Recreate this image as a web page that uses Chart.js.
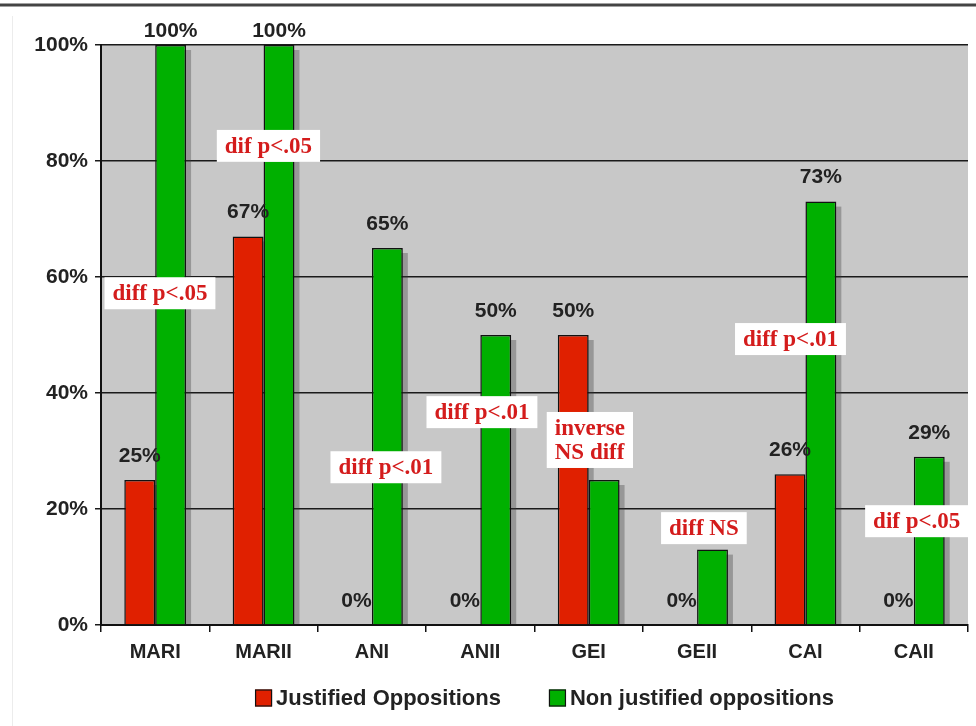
<!DOCTYPE html>
<html><head><meta charset="utf-8">
<script src="https://cdn.jsdelivr.net/npm/chart.js@4.4.1/dist/chart.umd.min.js"></script>
<style>html,body{margin:0;padding:0;background:#fff;} #wrap{width:976px;height:726px;position:relative;}</style>
</head><body><div id="wrap"><canvas id="c"></canvas></div>
<script>
const categories = ['MARI','MARII','ANI','ANII','GEI','GEII','CAI','CAII'];
const justified = [25,67,0,0,50,0,26,0];
const nonJustified = [100,100,65,50,25,13,73,29];
const seriesNames = ['Justified Oppositions','Non justified oppositions'];
const seriesColors = ['#e02000','#00b000'];
const yTickValues = [0,20,40,60,80,100];
const noteTexts = [['diff p<.05'],['dif p<.05'],['diff p<.01'],['diff p<.01'],['inverse','NS diff'],['diff NS'],['diff p<.01'],['dif p<.05']];
const noteCat = [0.044,1.045,2.129,3.015,4.011,5.063,5.862,7.027];
const noteVal = [57.2,82.6,27.2,36.7,31.9,16.7,49.3,17.9];

const SANS = '"Liberation Sans", Arial, sans-serif';
const SERIF = '"Liberation Serif", "Times New Roman", serif';

const bgPlugin = {
  id: 'bg',
  beforeDraw(chart) {
    const {ctx, chartArea: a} = chart;
    ctx.save();
    ctx.fillStyle = '#c8c8c8';
    ctx.fillRect(a.left, a.top, a.right - a.left, a.bottom - a.top);
    ctx.strokeStyle = '#444';
    ctx.lineWidth = 3;
    ctx.beginPath(); ctx.moveTo(0, 5); ctx.lineTo(chart.width, 5); ctx.stroke();
    ctx.strokeStyle = '#ececec';
    ctx.lineWidth = 1;
    ctx.beginPath(); ctx.moveTo(12.5, 16); ctx.lineTo(12.5, chart.height); ctx.stroke();
    ctx.restore();
  }
};

const shadowPlugin = {
  id: 'shadow',
  beforeDatasetsDraw(chart) {
    const ctx = chart.ctx;
    ctx.save();
    ctx.fillStyle = 'rgba(60,60,60,0.35)';
    chart.data.datasets.forEach((ds, di) => {
      const meta = chart.getDatasetMeta(di);
      meta.data.forEach((bar, i) => {
        if (!ds.data[i]) return;
        const w = bar.width;
        const h = bar.base - bar.y;
        ctx.fillRect(bar.x - w / 2 + 5, bar.y + 5, w, h - 5);
      });
    });
    ctx.restore();
  }
};

const valuePlugin = {
  id: 'values',
  afterDatasetsDraw(chart) {
    const ctx = chart.ctx;
    const top = chart.chartArea.top;
    ctx.save();
    ctx.font = 'bold 21px ' + SANS;
    ctx.fillStyle = '#222';
    ctx.textAlign = 'center';
    ctx.textBaseline = 'middle';
    chart.data.datasets.forEach((ds, di) => {
      const meta = chart.getDatasetMeta(di);
      meta.data.forEach((bar, i) => {
        const y = Math.max(bar.y - 24, top - 14);
        ctx.fillText(ds.data[i] + '%', bar.x, y);
      });
    });
    ctx.restore();
  }
};

const notesPlugin = {
  id: 'notes',
  afterDraw(chart) {
    const ctx = chart.ctx;
    const xs = chart.scales.x, ys = chart.scales.y;
    ctx.save();
    ctx.font = 'bold 23px ' + SERIF;
    ctx.textBaseline = 'middle';
    noteTexts.forEach((lines, k) => {
      const cx = xs.getPixelForValue(noteCat[k]);
      const cy = ys.getPixelForValue(noteVal[k]);
      const tw = Math.max(...lines.map(l => ctx.measureText(l).width));
      const lh = 24;
      const bw = tw + 16;
      const bh = lines.length * lh + 8;
      ctx.fillStyle = '#ffffff';
      ctx.fillRect(cx - bw / 2, cy - bh / 2, bw, bh);
      ctx.fillStyle = '#d41c1c';
      ctx.textAlign = 'left';
      lines.forEach((l, j) => {
        ctx.fillText(l, cx - tw / 2, cy - (lines.length - 1) * lh / 2 + j * lh + 1);
      });
    });
    ctx.restore();
  }
};

const legendPlugin = {
  id: 'customLegend',
  afterDraw(chart) {
    const ctx = chart.ctx;
    const a = chart.chartArea;
    ctx.save();
    ctx.font = 'bold 22px ' + SANS;
    ctx.textBaseline = 'middle';
    const box = 17, gapIn = 4, gapOut = 48;
    const widths = seriesNames.map(n => ctx.measureText(n).width);
    const total = widths.reduce((s, w) => s + box + gapIn + w, 0) + gapOut * (seriesNames.length - 1);
    let x = (a.left + a.right) / 2 + 10 - total / 2;
    const y = 698;
    seriesNames.forEach((n, i) => {
      ctx.fillStyle = seriesColors[i];
      ctx.fillRect(x, y - box / 2, box, box);
      ctx.strokeStyle = '#111';
      ctx.lineWidth = 1.2;
      ctx.strokeRect(x + 0.5, y - box / 2 + 0.5, box - 1, box - 1);
      ctx.fillStyle = '#222';
      ctx.textAlign = 'left';
      ctx.fillText(n, x + box + gapIn, y + 1);
      x += box + gapIn + widths[i] + gapOut;
    });
    ctx.restore();
  }
};

new Chart(document.getElementById('c'), {
  type: 'bar',
  data: {
    labels: categories,
    datasets: [
      { label: seriesNames[0], data: justified, backgroundColor: seriesColors[0], borderColor: '#111', borderWidth: 1.5 },
      { label: seriesNames[1], data: nonJustified, backgroundColor: seriesColors[1], borderColor: '#111', borderWidth: 1.5 }
    ]
  },
  options: {
    responsive: true,
    maintainAspectRatio: false,
    animation: false,
    categoryPercentage: 0.57,
    barPercentage: 1.0,
    layout: { padding: { top: 45, right: 8, bottom: 46, left: 0 } },
    plugins: { legend: { display: false }, tooltip: { enabled: false } },
    scales: {
      x: {
        grid: { offset: true, drawOnChartArea: false, tickLength: 7, color: '#111', lineWidth: 1.5 },
        border: { color: '#111', width: 2 },
        ticks: { font: { family: SANS, size: 20, weight: 'bold' }, color: '#222', padding: 8 },
        afterFit(s) { s.height = 55; }
      },
      y: {
        min: 0, max: 100,
        afterBuildTicks(s) { s.ticks = yTickValues.map(v => ({ value: v })); },
        grid: { color: '#1a1a1a', lineWidth: 1.5, tickLength: 6 },
        border: { color: '#111', width: 2 },
        ticks: { font: { family: SANS, size: 21, weight: 'bold' }, color: '#222', padding: 7, callback: v => v + '%' },
        afterFit(s) { s.width = 101; }
      }
    }
  },
  plugins: [bgPlugin, shadowPlugin, valuePlugin, notesPlugin, legendPlugin]
});
</script></body></html>
